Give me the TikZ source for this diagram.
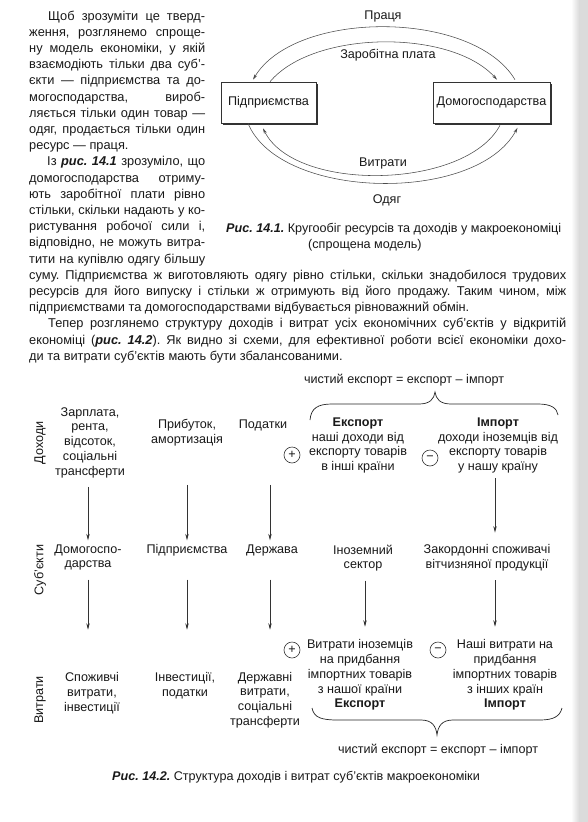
\documentclass[tikz,border=0pt]{standalone}
\usepackage{fontspec}
\setmainfont{Liberation Sans}
\usetikzlibrary{arrows.meta,calc,shadows}
\newcommand{\jl}[2]{\makebox[#1][s]{#2}}
\begin{document}
\frenchspacing
\begin{tikzpicture}[x=1pt,y=-1pt,
  every node/.style={inner sep=0pt, text=black!90},
  body/.style={anchor=base west, font=\fontsize{12.8}{16.2}\selectfont},
  captxt/.style={font=\fontsize{12.6}{14}\selectfont},
  lbl/.style={font=\fontsize{12.6}{14.75}\selectfont, align=center},
  arr/.style={draw=black!80, line width=0.6pt, -{Stealth[length=6.5pt,width=3.4pt]}},
  flow/.style={draw=black!70, line width=0.55pt, -{Stealth[length=5.5pt,width=3pt]}},
  firm/.style={draw=black!80, fill=white, line width=0.6pt, minimum height=41pt,
    font=\fontsize{12.6}{14}\selectfont,
    drop shadow={shadow xshift=2pt,shadow yshift=-2pt,fill=black!80,opacity=1}},
  signc/.style={circle, draw=black!80, line width=0.6pt, minimum size=16pt, font=\fontsize{12.6}{12.6}\selectfont},
  bracel/.style={draw=black!85, line width=0.7pt},
  vlab/.style={rotate=90, font=\fontsize{12.6}{14}\selectfont}
]
\useasboundingbox (0,0) rectangle (588,822);
\fill[white] (0,0) rectangle (588,822);
% page edge
\shade[left color=white, right color=black!14] (571,0) rectangle (579,822);
\fill[black!14] (579,0) rectangle (588,822);

% ---------- body text ----------
\node[body] (l1) at (48,20) {\jl{157pt}{Щоб зрозуміти це тверд-}};
\node[body] (l2) at (29,36.2) {\jl{176pt}{ження, розглянемо спроще-}};
\node[body] (l3) at (29,52.4) {\jl{176pt}{ну модель економіки, у якій}};
\node[body] (l4) at (29,68.6) {\jl{176pt}{взаємодіють тільки два суб'-}};
\node[body] (l5) at (29,84.8) {\jl{176pt}{єкти — підприємства та до-}};
\node[body] (l6) at (29,101) {\jl{176pt}{могосподарства, вироб-}};
\node[body] (l7) at (29,117.2) {\jl{176pt}{ляється тільки один товар —}};
\node[body] (l8) at (29,133.4) {\jl{176pt}{одяг, продається тільки один}};
\node[body] (l9) at (29,149.6) {ресурс — праця.};
\node[body] (l10) at (47,165.8) {\jl{158pt}{Із \textbf{\textit{рис. 14.1}} зрозуміло, що}};
\node[body] (l11) at (29,182) {\jl{176pt}{домогосподарства отриму-}};
\node[body] (l12) at (29,198.2) {\jl{176pt}{ють заробітної плати рівно}};
\node[body] (l13) at (29,214.4) {\jl{176pt}{стільки, скільки надають у ко-}};
\node[body] (l14) at (29,230.6) {\jl{176pt}{ристування робочої сили і,}};
\node[body] (l15) at (29,246.8) {\jl{176pt}{відповідно, не можуть витра-}};
\node[body] (l16) at (29,263) {\jl{176pt}{тити на купівлю одягу більшу}};
\node[body] (l17) at (29,279.2) {\jl{537pt}{суму. Підприємства ж виготовляють одягу рівно стільки, скільки знадобилося трудових}};
\node[body] (l18) at (29,295.4) {\jl{537pt}{ресурсів для його випуску і стільки ж отримують від його продажу. Таким чином, між}};
\node[body] (l19) at (29,311.6) {підприємствами та домогосподарствами відбувається рівноважний обмін.};
\node[body] (l20) at (48,327.8) {\jl{518pt}{Тепер розглянемо структуру доходів і витрат усіх економічних суб'єктів у відкритій}};
\node[body] (l21) at (29,344) {\jl{537pt}{економіці (\textbf{\textit{рис. 14.2}}). Як видно зі схеми, для ефективної роботи всієї економіки дохо-}};
\node[body] (l22) at (29,360.2) {ди та витрати суб'єктів мають бути збалансованими.};

% ---------- Fig 14.1 ----------
\node[firm, minimum width=95pt] (F) at (268.5,102.5) {Підприємства};
\node[firm, minimum width=117pt] (H) at (491.5,102.5) {Домогосподарства};
\node[captxt] (lab1) at (383,16) {Праця};
\node[captxt] (lab2) at (388,55) {Заробітна плата};
\node[captxt] (lab3) at (383,163) {Витрати};
\node[captxt] (lab4) at (387,200) {Одяг};

\draw[flow] ([xshift=23.5pt,yshift=2pt]H.north) .. controls (473,9.5) and (295,9.5) .. ([xshift=-15.5pt,yshift=2pt]F.north);
\draw[flow] ([xshift=1.5pt]F.north) .. controls (313.7,29.7) and (451.5,29) .. ([xshift=5.5pt,yshift=2pt]H.north);
\draw[flow] ([xshift=8.5pt,yshift=-2pt]H.south) .. controls (465.8,189.6) and (295,192.9) .. ([xshift=-5.5pt,yshift=-5pt]F.south);
\draw[flow] ([xshift=-20.5pt]F.south) .. controls (279.8,200.3) and (476.1,204.1) .. ([xshift=26pt,yshift=-4.5pt]H.south);

\node[captxt, anchor=base west] (c1a) at (226,232) {\textbf{\textit{Рис. 14.1.}} Кругообіг ресурсів та доходів у макроекономіці};
\node[captxt, anchor=base west] (c1b) at (308,248.5) {(спрощена модель)};

% ---------- Fig 14.2 ----------
\node[lbl] (ftop) at (404,380) {чистий експорт = експорт -- імпорт};
\draw[bracel] (310,420) .. controls (311,408) and (318,404) .. (332,404) -- (419,404) .. controls (430,404) and (434,399) .. (435,392) .. controls (436,399) and (440,404) .. (451,404) -- (538,404) .. controls (551,404) and (557,408) .. (558,415);

\node[vlab] (v1) at (40,443) {Доходи};
\node[vlab] (v2) at (40,570) {Суб'єкти};
\node[vlab] (v3) at (40,700) {Витрати};

\node[lbl] (zp) at (90,442.5) {Зарплата,\\рента,\\відсоток,\\соціальні\\трансферти};
\node[lbl] (pr) at (187,432.5) {Прибуток,\\амортизація};
\node[lbl] (pd) at (263,425) {Податки};
\node[lbl] (ex) at (358,445.5) {\textbf{Експорт}\\наші доходи від\\експорту товарів\\в інші країни};
\node[lbl] (im) at (498,445.5) {\textbf{Імпорт}\\доходи іноземців від\\експорту товарів\\у нашу країну};
\node[signc] (p1) at (292,455) {+};
\node[signc] (m1) at (430,458) {−};

\node[lbl] (hh) at (88,557.5) {Домогоспо-\\дарства};
\node[lbl] (fi) at (187,550) {Підприємства};
\node[lbl] (st) at (272,550) {Держава};
\node[lbl] (fs) at (363,558) {Іноземний\\сектор};
\node[lbl] (fc) at (487,558) {Закордонні споживачі\\вітчизняної продукції};

\node[signc] (p2) at (292,650) {+};
\node[signc] (m2) at (438,650) {−};
\node[lbl] (ce) at (92,693) {Споживчі\\витрати,\\інвестиції};
\node[lbl] (it) at (185,685.5) {Інвестиції,\\податки};
\node[lbl] (ge) at (265,700) {Державні\\витрати,\\соціальні\\трансферти};
\node[lbl] (fe) at (360,675) {Витрати іноземців\\на придбання\\імпортних товарів\\з нашої країни\\\textbf{Експорт}};
\node[lbl] (oe) at (505,675) {Наші витрати на\\придбання\\імпортних товарів\\з інших країн\\\textbf{Імпорт}};

% arrows row 1 -> row 2
\draw[arr] ($(hh.north |- zp.south)+(0,9)$) -- ($(hh.north)+(0,-4)$);
\draw[arr] ($(fi.north |- zp.south)+(0,7)$) -- ($(fi.north |- hh.north)+(0,-4)$);
\draw[arr] ($(st.north |- zp.south)+(-2,7)$) -- ($(st.north |- hh.north)+(-2,-4)$);
\draw[arr] ($(im.south)+(-3,5)$) -- ($(im.south |- fc.north)+(-3,-12)$);

% arrows row 2 -> row 3
\draw[arr] ($(hh.south)+(0,9)$) -- ($(hh.south |- p2.north)+(0,-12)$);
\draw[arr] ($(fi.north |- hh.south)+(0,9)$) -- ($(fi.north |- p2.north)+(0,-12)$);
\draw[arr] ($(st.north |- hh.south)+(-2,9)$) -- ($(st.north |- p2.north)+(-2,-12)$);
\draw[arr] ($(fs.south)+(2,9)$) -- ($(fs.south |- p2.north)+(2,-15)$);
\draw[arr] ($(fc.south)+(8,9)$) -- ($(fc.south |- p2.north)+(8,-15)$);

\draw[bracel] (312,708) .. controls (314,718) and (322,720) .. (338,720) -- (421,720) .. controls (432,720) and (436,726) .. (437,735) .. controls (438,726) and (442,720) .. (453,720) -- (540,720) .. controls (554,720) and (560,716) .. (562,708);
\node[lbl] (fbot) at (438,750) {чистий експорт = експорт -- імпорт};

\node[captxt] (c2) at (296,777) {\textbf{\textit{Рис. 14.2.}} Структура доходів і витрат суб'єктів макроекономіки};
\end{tikzpicture}
\end{document}
